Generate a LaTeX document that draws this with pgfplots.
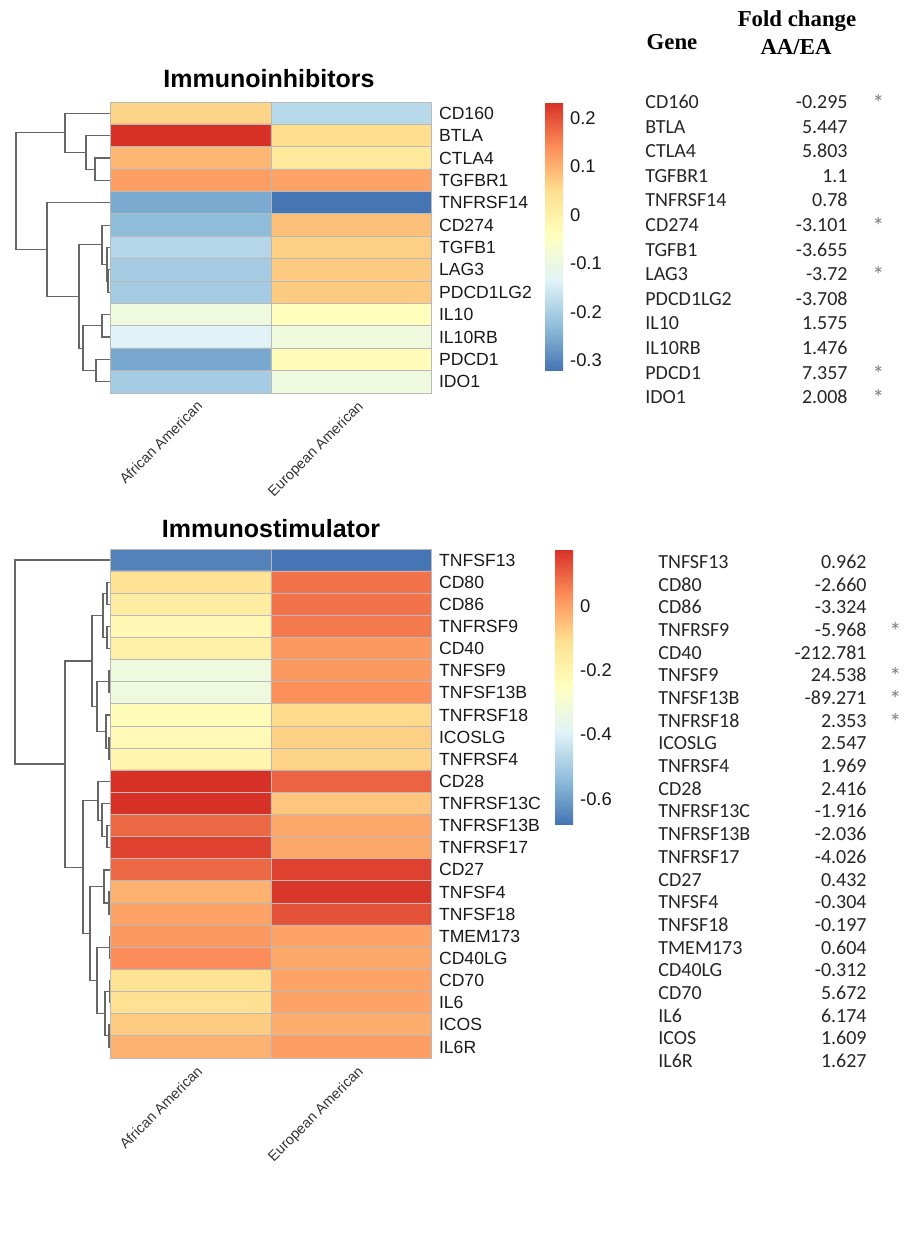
\documentclass[border=0pt]{standalone}
\usepackage{pgfplots}
\pgfplotsset{compat=1.18}
\usepackage{pgfplotstable}
\usepackage{fontspec}
\setmainfont{Liberation Sans}
\newfontfamily\tabfont{Carlito}
\newfontfamily\headfont{Liberation Serif}

% cell values (row r, column c: 0 = African American, 1 = European American)
\pgfplotstableread{
r c v
0 0 0.062
0 1 -0.182
1 0 0.233
1 1 0.050
2 0 0.095
2 1 0.023
3 0 0.122
3 1 0.117
4 0 -0.254
4 1 -0.320
5 0 -0.232
5 1 0.084
6 0 -0.187
6 1 0.067
7 0 -0.204
7 1 0.073
8 0 -0.204
8 1 0.073
9 0 -0.093
9 1 -0.038
10 0 -0.132
10 1 -0.093
11 0 -0.259
11 1 -0.032
12 0 -0.204
12 1 -0.093
}\inhib

\pgfplotstableread{
r c v
0 0 -0.652
0 1 -0.678
1 0 -0.122
1 1 0.074
2 0 -0.165
2 1 0.074
3 0 -0.216
3 1 0.066
4 0 -0.182
4 1 0.015
5 0 -0.327
5 1 0.015
6 0 -0.327
6 1 0.032
7 0 -0.233
7 1 -0.097
8 0 -0.225
8 1 -0.080
9 0 -0.199
9 1 -0.088
10 0 0.177
10 1 0.100
11 0 0.177
11 1 -0.062
12 0 0.092
12 1 -0.011
13 0 0.151
13 1 -0.011
14 0 0.092
14 1 0.151
15 0 -0.028
15 1 0.168
16 0 -0.003
16 1 0.126
17 0 0.015
17 1 -0.003
18 0 0.036
18 1 -0.011
19 0 -0.122
19 1 -0.003
20 0 -0.114
20 1 -0.003
21 0 -0.071
21 1 -0.020
22 0 -0.028
22 1 0.006
}\stim

\pgfplotsset{
  colormap={rdylbu}{rgb255=(69,117,180) rgb255=(145,191,219) rgb255=(224,243,248)
    rgb255=(255,255,191) rgb255=(254,224,144) rgb255=(252,141,89) rgb255=(215,48,39)},
  heat/.style={
    anchor=north west, scale only axis, width=160.75pt,
    xmin=-0.5, xmax=1.5,
    xtick={0,1}, xticklabels={African American,European American},
    xticklabel style={rotate=45, anchor=north east, inner sep=1pt,
      xshift=0.5pt, yshift=-3pt,
      font=\fontsize{7.2}{9}\selectfont, text=black!80},
    yticklabel pos=right,
    yticklabel style={font=\fontsize{8.8}{10}\selectfont, text=black!90},
    major tick length=0pt, minor tick length=0pt,
    minor xtick={0.5},
    xminorgrids, yminorgrids,
    minor grid style={draw=gray!55, line width=0.5pt},
    axis line style={draw=gray!55, line width=0.5pt},
    axis on top,
    colormap name=rdylbu,
    colorbar right,
  },
  cbar/.style={
    anchor=north west, scale only axis, width=9pt,
    at={(parent axis.north east)},
    xtick=\empty, xminorgrids=false, yminorgrids=false,
    axis line style={draw=none}, major tick length=0pt,
    yticklabel style={font=\fontsize{9.2}{10}\selectfont, text=black!90},
  },
  dendro/.style={
    anchor=north west, scale only axis, width=55.25pt,
    xmin=0, xmax=110.5, hide axis, clip=false,
  },
  dend/.style={draw=black!60, line width=0.6pt, mark=none},
}

\begin{document}
\begin{tikzpicture}
\useasboundingbox (0,0) rectangle (456pt,-619.5pt);

% ---------- Immunoinhibitors ----------
\begin{axis}[dendro, at={(0pt,-51pt)}, height=145.5pt, ymin=-12.5, ymax=0.5]
\addplot[dend] coordinates {(110.5,-2) (95,-2) (95,-3) (110.5,-3)};
\addplot[dend] coordinates {(110.5,-1) (86,-1) (86,-2.5) (95,-2.5)};
\addplot[dend] coordinates {(110.5,0) (65,0) (65,-1.75) (86,-1.75)};
\addplot[dend] coordinates {(110.5,-7) (108,-7) (108,-8) (110.5,-8)};
\addplot[dend] coordinates {(110.5,-6) (107,-6) (107,-7.5) (108,-7.5)};
\addplot[dend] coordinates {(110.5,-5) (102,-5) (102,-6.75) (107,-6.75)};
\addplot[dend] coordinates {(110.5,-9) (102,-9) (102,-10) (110.5,-10)};
\addplot[dend] coordinates {(110.5,-11) (96,-11) (96,-12) (110.5,-12)};
\addplot[dend] coordinates {(102,-9.5) (83,-9.5) (83,-11.5) (96,-11.5)};
\addplot[dend] coordinates {(102,-5.875) (79,-5.875) (79,-10.5) (83,-10.5)};
\addplot[dend] coordinates {(110.5,-4) (47,-4) (47,-8.1875) (79,-8.1875)};
\addplot[dend] coordinates {(65,-0.875) (16,-0.875) (16,-6.094) (47,-6.094)};
\end{axis}

\begin{axis}[heat, at={(55.25pt,-51pt)}, height=145.5pt,
  ymin=-12.5, ymax=0.5,
  ytick={-12,-11,...,0},
  yticklabels={IDO1,PDCD1,IL10RB,IL10,PDCD1LG2,LAG3,TGFB1,CD274,TNFRSF14,TGFBR1,CTLA4,BTLA,CD160},
  minor ytick={-11.5,-10.5,...,-0.5},
  point meta min=-0.32, point meta max=0.233,
  colorbar style={cbar, xshift=48pt, height=134pt,
    ytick={-0.3,-0.2,-0.1,0,0.1,0.2},
    yticklabels={-0.3,-0.2,-0.1,0,0.1,0.2}},
]
\addplot[matrix plot*, mesh/cols=2, point meta=explicit]
  table[x=c, y expr=-\thisrow{r}, meta=v] {\inhib};
\end{axis}

% ---------- Immunostimulator ----------
\begin{axis}[dendro, at={(0pt,-274.5pt)}, height=254.5pt, ymin=-22.5, ymax=0.5]
\addplot[dend] coordinates {(110.5,-1) (107,-1) (107,-2) (110.5,-2)};
\addplot[dend] coordinates {(110.5,-3) (107,-3) (107,-4) (110.5,-4)};
\addplot[dend] coordinates {(107,-1.5) (103,-1.5) (103,-3.5) (107,-3.5)};
\addplot[dend] coordinates {(110.5,-5) (109,-5) (109,-6) (110.5,-6)};
\addplot[dend] coordinates {(110.5,-8) (109,-8) (109,-9) (110.5,-9)};
\addplot[dend] coordinates {(110.5,-7) (106,-7) (106,-8.5) (109,-8.5)};
\addplot[dend] coordinates {(109,-5.5) (97,-5.5) (97,-7.75) (106,-7.75)};
\addplot[dend] coordinates {(103,-2.5) (92,-2.5) (92,-6.625) (97,-6.625)};
\addplot[dend] coordinates {(110.5,-12) (107,-12) (107,-13) (110.5,-13)};
\addplot[dend] coordinates {(110.5,-11) (102,-11) (102,-12.5) (107,-12.5)};
\addplot[dend] coordinates {(110.5,-10) (98,-10) (98,-11.75) (102,-11.75)};
\addplot[dend] coordinates {(110.5,-15) (109,-15) (109,-16) (110.5,-16)};
\addplot[dend] coordinates {(110.5,-14) (104,-14) (104,-15.5) (109,-15.5)};
\addplot[dend] coordinates {(110.5,-17) (109.5,-17) (109.5,-18) (110.5,-18)};
\addplot[dend] coordinates {(110.5,-19) (109.5,-19) (109.5,-20) (110.5,-20)};
\addplot[dend] coordinates {(110.5,-21) (109,-21) (109,-22) (110.5,-22)};
\addplot[dend] coordinates {(109.5,-19.5) (105,-19.5) (105,-21.5) (109,-21.5)};
\addplot[dend] coordinates {(109.5,-17.5) (97,-17.5) (97,-20.5) (105,-20.5)};
\addplot[dend] coordinates {(104,-14.75) (90,-14.75) (90,-19) (97,-19)};
\addplot[dend] coordinates {(98,-10.875) (83,-10.875) (83,-16.875) (90,-16.875)};
\addplot[dend] coordinates {(92,-4.5625) (65,-4.5625) (65,-13.875) (83,-13.875)};
\addplot[dend] coordinates {(110.5,0) (15,0) (15,-9.219) (65,-9.219)};
\end{axis}

\begin{axis}[heat, at={(55.25pt,-274.5pt)}, height=254.5pt,
  ymin=-22.5, ymax=0.5,
  ytick={-22,-21,...,0},
  yticklabels={IL6R,ICOS,IL6,CD70,CD40LG,TMEM173,TNFSF18,TNFSF4,CD27,TNFRSF17,TNFRSF13B,TNFRSF13C,CD28,TNFRSF4,ICOSLG,TNFRSF18,TNFSF13B,TNFSF9,CD40,TNFRSF9,CD86,CD80,TNFSF13},
  minor ytick={-21.5,-20.5,...,-0.5},
  point meta min=-0.678, point meta max=0.177,
  colorbar style={cbar, xshift=53pt, height=137.5pt,
    ytick={-0.6,-0.4,-0.2,0},
    yticklabels={-0.6,-0.4,-0.2,0}},
]
\addplot[matrix plot*, mesh/cols=2, point meta=explicit]
  table[x=c, y expr=-\thisrow{r}, meta=v] {\stim};
\end{axis}

% titles
\node[font=\bfseries\fontsize{12.5}{14}\selectfont] at (134.5pt,-39.5pt) {Immunoinhibitors};
\node[font=\bfseries\fontsize{12.5}{14}\selectfont] at (135.5pt,-264.5pt) {Immunostimulator};

% fold change tables
\node[font=\headfont\bfseries\fontsize{11.4}{13}\selectfont] at (336pt,-21pt) {Gene};
\node[font=\headfont\bfseries\fontsize{11.4}{13}\selectfont] at (398.5pt,-10.5pt) {Fold change};
\node[font=\headfont\bfseries\fontsize{11.4}{13}\selectfont] at (398pt,-23.5pt) {AA/EA};

\begin{scope}[every node/.style={font=\tabfont\fontsize{10}{12}\selectfont, text=black!85,
    inner sep=0pt, text height=6.5pt, text depth=0pt},
    star/.style={anchor=west, text=black!50, yshift=-1.5pt,
      font=\tabfont\fontsize{12}{12}\selectfont}]
\foreach \g/\v/\s [count=\i from 0] in {CD160/-0.295/*, BTLA/5.447/{}, CTLA4/5.803/{},
    TGFBR1/1.1/{}, TNFRSF14/0.78/{}, CD274/-3.101/*, TGFB1/-3.655/{}, LAG3/-3.72/*,
    PDCD1LG2/-3.708/{}, IL10/1.575/{}, IL10RB/1.476/{}, PDCD1/7.357/*, IDO1/2.008/*} {
  \node[anchor=west] at (322.5pt,{-51pt-\i*12.3pt}) {\g};
  \node[anchor=east] at (424pt,{-51pt-\i*12.3pt}) {\v};
  \node[star] at (436pt,{-51pt-\i*12.3pt}) {\s};
}
\foreach \g/\v/\s [count=\i from 0] in {TNFSF13/0.962/{}, CD80/-2.660/{}, CD86/-3.324/{},
    TNFRSF9/-5.968/*, CD40/-212.781/{}, TNFSF9/24.538/*, TNFSF13B/-89.271/*,
    TNFRSF18/2.353/*, ICOSLG/2.547/{}, TNFRSF4/1.969/{}, CD28/2.416/{},
    TNFRSF13C/-1.916/{}, TNFRSF13B/-2.036/{}, TNFRSF17/-4.026/{}, CD27/0.432/{},
    TNFSF4/-0.304/{}, TNFSF18/-0.197/{}, TMEM173/0.604/{}, CD40LG/-0.312/{},
    CD70/5.672/{}, IL6/6.174/{}, ICOS/1.609/{}, IL6R/1.627/{}} {
  \node[anchor=west] at (329pt,{-281pt-\i*11.34pt}) {\g};
  \node[anchor=east] at (433.5pt,{-281pt-\i*11.34pt}) {\v};
  \node[star] at (444.5pt,{-281pt-\i*11.34pt}) {\s};
}
\end{scope}
\end{tikzpicture}
\end{document}
